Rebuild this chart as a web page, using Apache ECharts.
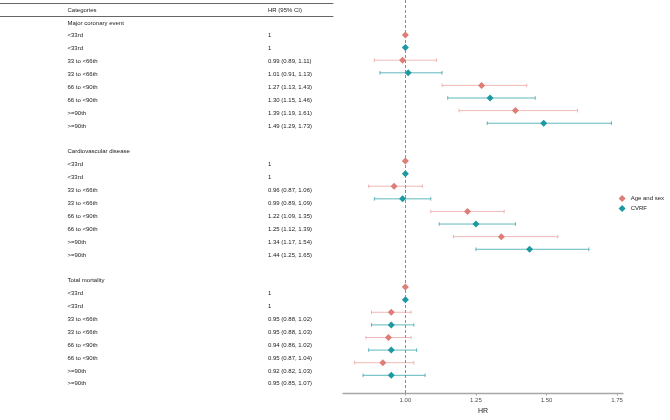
<!DOCTYPE html>
<html>
<head>
<meta charset="utf-8">
<script src="https://cdn.jsdelivr.net/npm/echarts@6/dist/echarts.min.js"></script>
<style>
html,body{margin:0;padding:0;background:#fff;}
#chart{width:670px;height:420px;}
</style>
</head>
<body>
<div id="chart"></div>
<script>
// ---- data ----
const outcomes = ['Major coronary event', 'Cardiovascular disease', 'Total mortality'];
const quantileLabels = ['<33rd', '33 to <66th', '66 to <90th', '>=90th'];
const seriesNames = ['Age and sex', 'CVRF'];
// per outcome, 4 quantile levels each (reference level has no CI)
const ageHR   = [1, 0.99, 1.27, 1.39,   1, 0.96, 1.22, 1.34,   1, 0.95, 0.94, 0.92];
const ageLo   = [null, 0.89, 1.13, 1.19, null, 0.87, 1.09, 1.17, null, 0.88, 0.86, 0.82];
const ageHi   = [null, 1.11, 1.43, 1.61, null, 1.06, 1.35, 1.54, null, 1.02, 1.02, 1.03];
const cvrfHR  = [1, 1.01, 1.30, 1.49,   1, 0.99, 1.25, 1.44,   1, 0.95, 0.95, 0.95];
const cvrfLo  = [null, 0.91, 1.15, 1.29, null, 0.89, 1.12, 1.25, null, 0.88, 0.87, 0.85];
const cvrfHi  = [null, 1.13, 1.46, 1.73, null, 1.09, 1.39, 1.65, null, 1.03, 1.04, 1.07];
const tickValues = [1.00, 1.25, 1.50, 1.75];
const headerLabels = ['Categories', 'HR (95% CI)'];

// ---- build table rows ----
function hrText(h, l, u) {
  if (l == null) return String(h);
  return h.toFixed(2) + ' (' + l.toFixed(2) + ', ' + u.toFixed(2) + ')';
}
const rowLabels = [], rowHR = [];
const agePts = [], ageBars = [], cvrfPts = [], cvrfBars = [];
outcomes.forEach(function (o, g) {
  rowLabels.push(o); rowHR.push('');
  quantileLabels.forEach(function (q, k) {
    const idx = g * 4 + k;
    let r = rowLabels.length + 1; // overall row index (header = 0)
    rowLabels.push(q); rowHR.push(hrText(ageHR[idx], ageLo[idx], ageHi[idx]));
    agePts.push([ageHR[idx], r]);
    if (ageLo[idx] != null) ageBars.push([ageLo[idx], ageHi[idx], r]);
    r = rowLabels.length + 1;
    rowLabels.push(q); rowHR.push(hrText(cvrfHR[idx], cvrfLo[idx], cvrfHi[idx]));
    cvrfPts.push([cvrfHR[idx], r]);
    if (cvrfLo[idx] != null) cvrfBars.push([cvrfLo[idx], cvrfHi[idx], r]);
  });
  if (g < outcomes.length - 1) { rowLabels.push(''); rowHR.push(''); }
});

// ---- layout ----
const FONT = 'Liberation Sans';
const ROW0 = 10, STEP = 12.89;
const nBody = rowLabels.length;
const tableW = 333;
const catX = 67.5, hrX = 268;
const plotLeft = 343, plotW = 280, plotH = 402;

const ageColor = '#DE7D77', ageLine = 'rgba(226,129,123,0.55)';
const cvrfColor = '#1E99A1', cvrfLine = 'rgba(31,155,163,0.7)';

function errorBar(lineColor) {
  return function (params, api) {
    const y = api.value(2);
    const p1 = api.coord([api.value(0), y]);
    const p2 = api.coord([api.value(1), y]);
    const c = 1.8;
    const st = { stroke: lineColor, lineWidth: 1 };
    return {
      type: 'group',
      children: [
        { type: 'line', shape: { x1: p1[0], y1: p1[1], x2: p2[0], y2: p2[1] }, style: st },
        { type: 'line', shape: { x1: p1[0], y1: p1[1] - c, x2: p1[0], y2: p1[1] + c }, style: st },
        { type: 'line', shape: { x1: p2[0], y1: p2[1] - c, x2: p2[0], y2: p2[1] + c }, style: st }
      ]
    };
  };
}

const labelStyle = { fontFamily: FONT, fontSize: 6, color: '#1a1a1a', align: 'left' };
const hiddenX = { type: 'value', min: 0, max: 1, axisLabel: { show: false }, axisTick: { show: false }, splitLine: { show: false } };

const option = {
  animation: false,
  backgroundColor: '#fff',
  textStyle: { fontFamily: FONT },
  legend: {
    data: seriesNames.map(function (n) { return { name: n, icon: 'diamond' }; }),
    orient: 'vertical',
    right: 6, top: 195,
    itemWidth: 7, itemHeight: 7, itemGap: 3,
    padding: 0,
    textStyle: { fontFamily: FONT, fontSize: 6, color: '#1a1a1a', overflow: 'none' }
  },
  grid: [
    { left: 0, width: tableW, top: ROW0 - STEP / 2, height: STEP },
    { left: 0, width: tableW, top: ROW0 + STEP / 2, height: STEP * nBody },
    { left: plotLeft, width: plotW, top: 0, height: plotH }
  ],
  xAxis: [
    Object.assign({}, hiddenX, { gridIndex: 0, position: 'top', axisLine: { show: true, onZero: false, lineStyle: { color: '#666', width: 1 } } }),
    Object.assign({}, hiddenX, { gridIndex: 0, position: 'bottom', axisLine: { show: true, onZero: false, lineStyle: { color: '#666', width: 1 } } }),
    Object.assign({}, hiddenX, { gridIndex: 1, axisLine: { show: false } }),
    {
      gridIndex: 2, type: 'value', min: 0.779, max: 1.771, position: 'bottom',
      name: 'HR', nameLocation: 'middle', nameGap: 14,
      nameTextStyle: { fontFamily: FONT, fontSize: 7, color: '#1a1a1a' },
      axisLine: { show: true, onZero: false, lineStyle: { color: '#a6a6a6', width: 1.3 } },
      axisTick: { show: true, length: 2.5, customValues: tickValues, lineStyle: { color: '#a6a6a6' } },
      axisLabel: { customValues: tickValues, margin: 4, fontFamily: FONT, fontSize: 6, color: '#4d4d4d',
        formatter: function (v) { return Number(v).toFixed(2); } },
      splitLine: { show: false }
    }
  ],
  yAxis: [
    { gridIndex: 0, type: 'category', position: 'left', data: [headerLabels[0]],
      axisLine: { show: false }, axisTick: { show: false },
      axisLabel: Object.assign({ margin: -catX, interval: 0 }, labelStyle) },
    { gridIndex: 0, type: 'category', position: 'right', data: [headerLabels[1]],
      axisLine: { show: false }, axisTick: { show: false },
      axisLabel: Object.assign({ margin: hrX - tableW, interval: 0 }, labelStyle) },
    { gridIndex: 1, type: 'category', position: 'left', inverse: true, data: rowLabels,
      axisLine: { show: false }, axisTick: { show: false },
      axisLabel: Object.assign({ margin: -catX, interval: 0 }, labelStyle) },
    { gridIndex: 1, type: 'category', position: 'right', inverse: true, data: rowHR,
      axisLine: { show: false }, axisTick: { show: false },
      axisLabel: Object.assign({ margin: hrX - tableW, interval: 0 }, labelStyle) },
    { gridIndex: 2, type: 'value', inverse: true,
      min: -ROW0 / STEP, max: (plotH - ROW0) / STEP,
      show: false, axisLine: { onZero: false }, splitLine: { show: false } }
  ],
  series: [
    {
      name: seriesNames[0], type: 'scatter', xAxisIndex: 3, yAxisIndex: 4,
      symbol: 'diamond', symbolSize: 7, z: 5,
      itemStyle: { color: ageColor, opacity: 1 },
      data: agePts,
      markLine: {
        silent: true, symbol: ['none', 'none'], label: { show: false }, z: 1,
        lineStyle: { color: '#8c8c8c', type: [3, 2], width: 1 },
        data: [{ xAxis: 1 }]
      }
    },
    {
      name: seriesNames[1], type: 'scatter', xAxisIndex: 3, yAxisIndex: 4,
      symbol: 'diamond', symbolSize: 7, z: 5,
      itemStyle: { color: cvrfColor, opacity: 1 },
      data: cvrfPts
    },
    {
      name: seriesNames[0], type: 'custom', xAxisIndex: 3, yAxisIndex: 4, z: 2,
      itemStyle: { color: ageColor },
      renderItem: errorBar(ageLine), data: ageBars
    },
    {
      name: seriesNames[1], type: 'custom', xAxisIndex: 3, yAxisIndex: 4, z: 2,
      itemStyle: { color: cvrfColor },
      renderItem: errorBar(cvrfLine), data: cvrfBars
    }
  ]
};

const chart = echarts.init(document.getElementById('chart'), null, { renderer: 'canvas' });
chart.setOption(option);
</script>
</body>
</html>
